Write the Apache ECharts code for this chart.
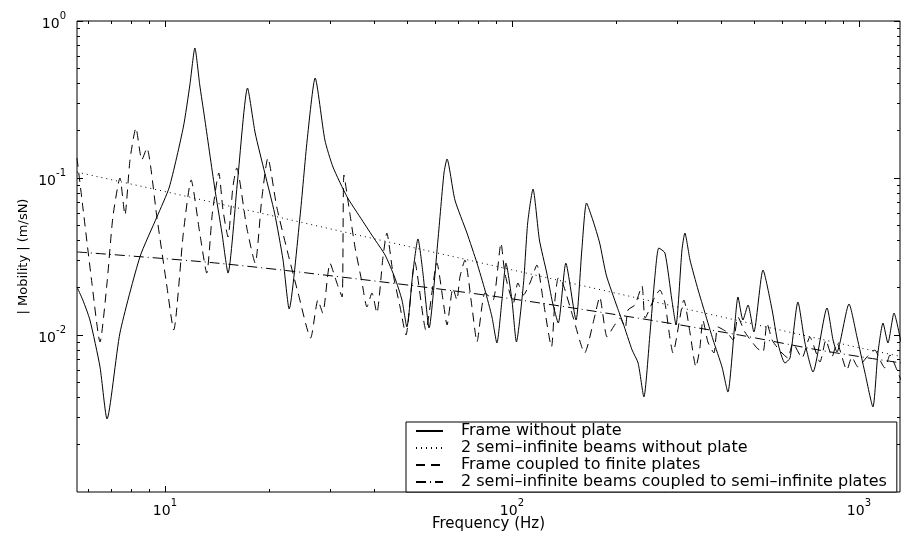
<!DOCTYPE html>
<html>
<head>
<meta charset="utf-8">
<title>Mobility</title>
<script src="https://cdn.jsdelivr.net/npm/echarts@6/dist/echarts.min.js"></script>
<style>
  html, body { margin: 0; padding: 0; background: #fff; }
  #chart { width: 901px; height: 533px; }
</style>
</head>
<body>
<div id="chart"></div>
<script>
// axis ranges / ticks
const xRange = [5.58, 1313];
const yRange = [0.001, 1];
const xMajor = [10, 100, 1000];
const xMinor = [6, 7, 8, 9, 20, 30, 40, 50, 60, 70, 80, 90, 200, 300, 400, 500, 600, 700, 800, 900];
const yMajor = [0.01, 0.1, 1];
const yMinor = [0.002, 0.003, 0.004, 0.005, 0.006, 0.007, 0.008, 0.009,
  0.02, 0.03, 0.04, 0.05, 0.06, 0.07, 0.08, 0.09, 0.2, 0.3, 0.4, 0.5, 0.6, 0.7, 0.8, 0.9];

const seriesNames = [
  'Frame without plate',
  '2 semi\u2013infinite beams without plate',
  'Frame coupled to finite plates',
  '2 semi\u2013infinite beams coupled to semi\u2013infinite plates'
];

// Frame without plate (solid)
const frameFreq = [5.58, 5.80, 6.08, 6.50, 6.81, 7.42, 8.47, 9.48, 10.3, 11.3, 11.8, 12.2, 12.6, 13.0, 13.9, 14.6,
  15.2, 16.2, 17.3, 18.2, 19.4, 20.7, 21.9, 22.8, 24.5, 25.7, 27.1, 28.9, 30.5, 33.5, 36.5, 39.8,
  43.1, 46.0, 48.2, 49.8, 51.8, 53.6, 55.4, 57.7, 61.2, 63.7, 65.0, 68.5, 74.2, 79.3, 83.6, 87.6,
  90.5, 93.6, 96.1, 100, 103, 108, 111, 115, 120, 126, 131, 136, 143, 153, 159, 164,
  171, 179, 187, 201, 209, 222, 231, 240, 250, 258, 265, 276, 289, 297, 309, 315,
  326, 344, 360, 380, 403, 419, 439, 448, 463, 479, 498, 529, 562, 584, 612, 633,
  667, 699, 737, 809, 842, 864, 936, 987, 1041, 1097, 1134, 1173, 1212, 1262, 1321];
const frameMob = [0.0202, 0.0167, 0.01246, 0.00626, 0.00292, 0.0103, 0.0314, 0.0564, 0.0877, 0.211, 0.391, 0.673, 0.391, 0.245, 0.0877, 0.0446,
  0.0248, 0.0971, 0.374, 0.1935, 0.1076, 0.0598, 0.0300, 0.01464, 0.0564, 0.1746, 0.4335, 0.1746, 0.1175, 0.0757, 0.0564, 0.0421,
  0.0323, 0.0231, 0.0167, 0.01125, 0.0248, 0.0409, 0.0248, 0.01108, 0.0403, 0.1076, 0.1321, 0.0724, 0.0446, 0.0287, 0.01934, 0.01302,
  0.00889, 0.0167, 0.0287, 0.0167, 0.00903, 0.02144, 0.0517, 0.0851, 0.0403, 0.0248, 0.01599, 0.01192, 0.0287, 0.01246, 0.0348, 0.0693,
  0.0540, 0.0385, 0.0241, 0.01508, 0.01192, 0.00802, 0.00663, 0.00403, 0.0103, 0.0231, 0.0358, 0.0333, 0.0167, 0.01158, 0.0348, 0.0446,
  0.0300, 0.01934, 0.0138, 0.00929, 0.00626, 0.00433, 0.01192, 0.01746, 0.01246, 0.01553, 0.01045, 0.02594, 0.01443, 0.00889, 0.00663, 0.00714,
  0.01623, 0.00889, 0.00581, 0.01486, 0.00929, 0.00779, 0.01576, 0.00971, 0.00573, 0.00348, 0.00768, 0.01192, 0.00889, 0.0138, 0.00903];

// 2 semi-infinite beams without plate (dotted)
const beamFreq = [5.58, 10, 100, 1000, 1321];
const beamMob = [0.109, 0.082, 0.026, 0.0083, 0.0073];

// Frame coupled to finite plates (dashed)
const coupledFreq = [5.58, 5.80, 6.16, 6.50, 6.81, 7.08, 7.42, 7.67, 7.93, 8.25, 8.58, 8.87, 9.48, 10.1, 10.6, 11.3,
  11.9, 12.6, 13.2, 13.7, 14.3, 14.7, 15.2, 15.7, 16.1, 17.2, 18.2, 19.0, 19.8, 21.0, 22.6, 24.2,
  26.3, 27.6, 28.5, 29.9, 31.3, 32.4, 32.8, 34.1, 35.3, 37.0, 38.2, 39.5, 40.8, 42.5, 43.6, 45.4,
  47.6, 49.5, 52.5, 56.5, 60.8, 63.3, 65.0, 67.6, 69.4, 70.8, 73.2, 76.7, 79.3, 81.9, 83.6, 88.2,
  93.0, 95.4, 101, 104, 108, 113, 118, 123, 130, 133, 136, 140, 150, 162, 173, 179,
  188, 196, 205, 212, 216, 226, 237, 242, 258, 267, 276, 285, 291, 313, 326, 339,
  348, 355, 367, 382, 392, 416, 434, 448, 469, 508, 529, 543, 562, 580, 600, 624,
  645, 685, 722, 772, 803, 836, 864, 923, 954, 993, 1054, 1112, 1149, 1188, 1228, 1287, 1321];
const coupledMob = [0.1341, 0.0654, 0.02144, 0.00903, 0.02144, 0.0564, 0.1, 0.0581, 0.1302, 0.2083, 0.1302, 0.1553, 0.0564, 0.02144, 0.01076, 0.0446,
  0.0971, 0.0446, 0.0248, 0.0598, 0.1076, 0.0626, 0.0421, 0.0877, 0.1158, 0.0487, 0.0287, 0.0724, 0.1341, 0.0654, 0.0333, 0.01852,
  0.00957, 0.0167, 0.0138, 0.0287, 0.02144, 0.01746, 0.1045, 0.0598, 0.0363, 0.02144, 0.01508, 0.01852, 0.0138, 0.0314, 0.0446, 0.0248,
  0.01508, 0.01, 0.0292, 0.01076, 0.0287, 0.0167, 0.01158, 0.01993, 0.0167, 0.0234, 0.0300, 0.01508, 0.00903, 0.01508, 0.01852, 0.0167,
  0.0385, 0.0248, 0.01599, 0.02144, 0.0180, 0.02176, 0.0279, 0.0167, 0.00839, 0.0167, 0.0231, 0.02144, 0.01302, 0.00768, 0.01302, 0.01746,
  0.00971, 0.01125, 0.01283, 0.01108, 0.01443, 0.01553, 0.0205, 0.01283, 0.01746, 0.01934, 0.01599, 0.00971, 0.00768, 0.0167, 0.0103, 0.00626,
  0.00827, 0.01246, 0.00903, 0.00768, 0.01125, 0.01045, 0.00929, 0.01302, 0.01045, 0.00827, 0.00779, 0.01192, 0.00929, 0.00839, 0.00768, 0.00714,
  0.00889, 0.00714, 0.00971, 0.00673, 0.00929, 0.00724, 0.00889, 0.00598, 0.00724, 0.00626, 0.00724, 0.00802, 0.00693, 0.00616, 0.00746, 0.00598, 0.00517];

// 2 semi-infinite beams coupled to semi-infinite plates (dash-dot)
const semiFreq = [5.58, 13.9, 33.9, 83.1, 203, 452, 772, 1321];
const semiMob = [0.0338, 0.0288, 0.0231, 0.018, 0.0134, 0.0100, 0.0080, 0.00664];

const FONT = 'DejaVu Sans, Liberation Sans, Arial, sans-serif';

function pairs(xs, ys) {
  return xs.map((x, i) => [x, ys[i]]);
}

function powLabel(v) {
  const e = Math.round(Math.log10(v));
  return '{b|10}{e|' + e + '}';
}

const labelRich = {
  b: { fontSize: 14, fontFamily: FONT, color: '#000', verticalAlign: 'bottom', lineHeight: 20 },
  e: { fontSize: 10, fontFamily: FONT, color: '#000', verticalAlign: 'top', lineHeight: 20 }
};

function makeAxis(type, pos, range, ticks, len, withLabel, extra) {
  return Object.assign({
    type: 'log',
    logBase: 10,
    position: pos,
    min: range[0],
    max: range[1],
    axisLine: { show: false },
    splitLine: { show: false },
    axisTick: {
      show: true, inside: true, length: len, customValues: ticks,
      lineStyle: { color: '#000', width: 1 }
    },
    axisLabel: withLabel ? {
      show: true, customValues: ticks, formatter: powLabel, rich: labelRich,
      margin: type === 'x' ? 6 : 11
    } : { show: false }
  }, extra || {});
}

const chart = echarts.init(document.getElementById('chart'), null, { renderer: 'canvas' });

chart.setOption({
  animation: false,
  backgroundColor: '#fff',
  grid: {
    left: 77, right: 1, top: 21, bottom: 41,
    outerBoundsMode: 'none',
    containLabel: false,
    show: true, borderColor: '#000', borderWidth: 1, backgroundColor: '#fff'
  },
  xAxis: [
    makeAxis('x', 'bottom', xRange, xMajor, 6, true),
    // minor ticks axis also carries the axis title (it has no labels to collide with)
    makeAxis('x', 'bottom', xRange, xMinor, 3, false, {
      name: 'Frequency (Hz)', nameLocation: 'middle', nameGap: 25,
      nameTextStyle: { fontSize: 15, fontFamily: FONT, color: '#000' }
    }),
    makeAxis('x', 'top', xRange, xMajor, 6, false),
    makeAxis('x', 'top', xRange, xMinor, 3, false)
  ],
  yAxis: [
    makeAxis('y', 'left', yRange, yMajor, 6, true),
    makeAxis('y', 'left', yRange, yMinor, 3, false, {
      name: '| Mobility | (m/sN)', nameLocation: 'middle', nameGap: 47,
      nameTextStyle: { fontSize: 13, fontFamily: FONT, color: '#000' }
    }),
    makeAxis('y', 'right', yRange, yMajor, 6, false),
    makeAxis('y', 'right', yRange, yMinor, 3, false)
  ],
  legend: {
    orient: 'vertical',
    left: 406,
    top: 422,
    padding: [1, 10, 2, 9],
    itemWidth: 27,
    itemHeight: 10,
    itemGap: 1,
    backgroundColor: '#fff',
    borderColor: '#000',
    borderWidth: 1,
    borderRadius: 0,
    itemStyle: { opacity: 0 },
    selectedMode: false,
    formatter: name => '{s|}' + name,
    textStyle: {
      fontSize: 16, fontFamily: FONT, color: '#000', lineHeight: 15,
      rich: { s: { width: 13 } }
    },
    data: seriesNames
  },
  series: [
    {
      name: seriesNames[0], type: 'line', data: pairs(frameFreq, frameMob),
      symbol: 'none', smooth: 0.2,
      lineStyle: { color: '#000', width: 1, type: 'solid' },
      itemStyle: { color: '#000' }
    },
    {
      name: seriesNames[1], type: 'line', data: pairs(beamFreq, beamMob),
      symbol: 'none',
      lineStyle: { color: '#000', width: 1, type: [1, 4] },
      itemStyle: { color: '#000' }
    },
    {
      name: seriesNames[2], type: 'line', data: pairs(coupledFreq, coupledMob),
      symbol: 'none', smooth: 0.2,
      lineStyle: { color: '#000', width: 1, type: [9, 6] },
      itemStyle: { color: '#000' }
    },
    {
      name: seriesNames[3], type: 'line', data: pairs(semiFreq, semiMob),
      symbol: 'none', smooth: 0.3,
      lineStyle: { color: '#000', width: 1, type: [10, 4, 1, 4] },
      itemStyle: { color: '#000' }
    }
  ]
});
</script>
</body>
</html>
